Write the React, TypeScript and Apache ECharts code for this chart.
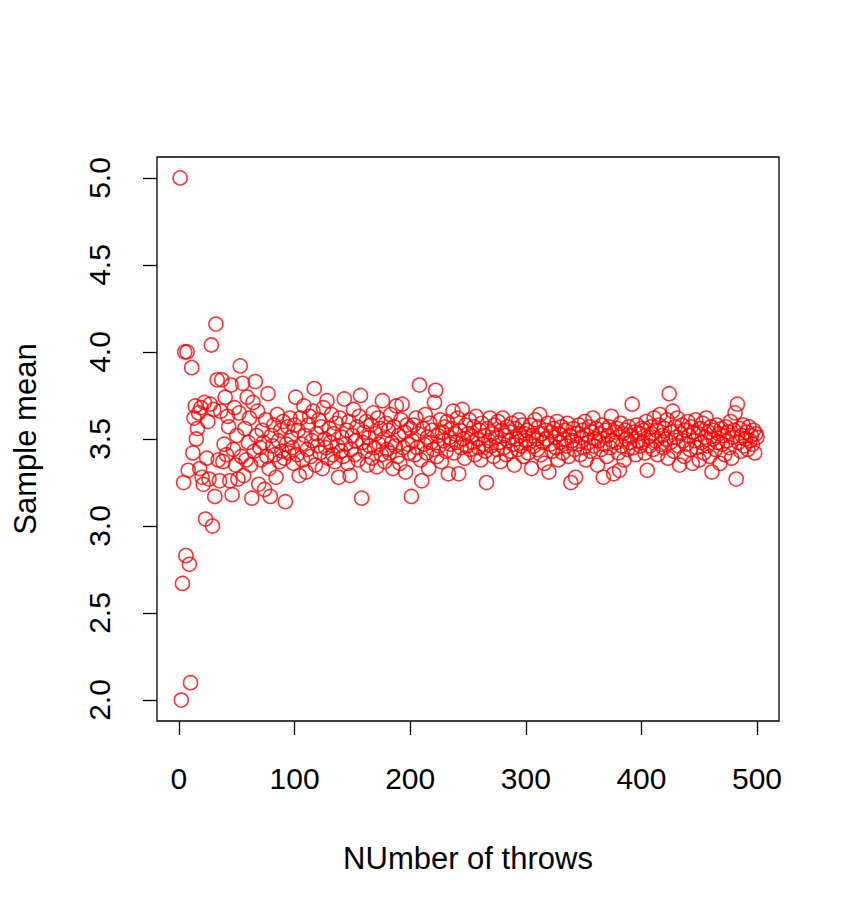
import React, { useEffect, useRef } from 'react';
import * as echarts from 'echarts';

// sample mean of n dice throws, n = 1..500
const means001to100 = [
  5.0, 2.0, 2.67, 3.25, 4.0, 2.83, 4.0, 3.32, 2.78, 2.1,
  3.91, 3.42, 3.62, 3.69, 3.5, 3.56, 3.65, 3.33, 3.68, 3.28,
  3.24, 3.71, 3.04, 3.39, 3.6, 3.27, 3.7, 4.04, 3.0, 3.67,
  3.17, 4.16, 3.84, 3.38, 3.26, 3.66, 3.84, 3.37, 3.47, 3.74,
  3.41, 3.63, 3.57, 3.26, 3.81, 3.18, 3.44, 3.68, 3.35, 3.52,
  3.27, 3.65, 3.92, 3.4, 3.82, 3.29, 3.56, 3.38, 3.74, 3.48,
  3.62, 3.35, 3.16, 3.71, 3.43, 3.83, 3.52, 3.66, 3.24, 3.45,
  3.38, 3.55, 3.48, 3.21, 3.61, 3.4, 3.76, 3.33, 3.17, 3.52,
  3.46, 3.58, 3.41, 3.28, 3.64, 3.49, 3.37, 3.55, 3.43, 3.6,
  3.39, 3.14, 3.47, 3.57, 3.42, 3.62, 3.51, 3.45, 3.36, 3.58,
];

const means101to200 = [
  3.74, 3.41, 3.55, 3.29, 3.62, 3.47, 3.38, 3.69, 3.52, 3.31,
  3.44, 3.58, 3.63, 3.4, 3.49, 3.66, 3.79, 3.35, 3.53, 3.46,
  3.61, 3.42, 3.57, 3.33, 3.68, 3.5, 3.45, 3.72, 3.39, 3.56,
  3.48, 3.64, 3.41, 3.53, 3.37, 3.59, 3.46, 3.28, 3.62, 3.43,
  3.51, 3.4, 3.73, 3.47, 3.55, 3.36, 3.6, 3.29, 3.44, 3.52,
  3.67, 3.41, 3.49, 3.57, 3.38, 3.63, 3.75, 3.16, 3.48, 3.54,
  3.43, 3.6, 3.35, 3.51, 3.46, 3.58, 3.39, 3.65, 3.45, 3.53,
  3.34, 3.62, 3.47, 3.56, 3.41, 3.72, 3.5, 3.37, 3.59, 3.44,
  3.55, 3.42, 3.64, 3.48, 3.33, 3.57, 3.46, 3.69, 3.4, 3.52,
  3.36, 3.61, 3.7, 3.45, 3.54, 3.31, 3.58, 3.47, 3.42, 3.56,
];

const means201to300 = [
  3.17, 3.49, 3.58, 3.41, 3.62, 3.45, 3.53, 3.81, 3.38, 3.26,
  3.56, 3.47, 3.64, 3.42, 3.51, 3.33, 3.59, 3.48, 3.55, 3.44,
  3.71, 3.78, 3.4, 3.52, 3.46, 3.61, 3.37, 3.54, 3.49, 3.57,
  3.43, 3.6, 3.3, 3.51, 3.47, 3.56, 3.66, 3.42, 3.53, 3.48,
  3.62, 3.3, 3.55, 3.45, 3.67, 3.5, 3.39, 3.58, 3.46, 3.53,
  3.61, 3.44, 3.52, 3.48, 3.57, 3.41, 3.63, 3.5, 3.45, 3.55,
  3.38, 3.59, 3.47, 3.52, 3.43, 3.25, 3.56, 3.49, 3.62, 3.46,
  3.53, 3.4, 3.58, 3.51, 3.44, 3.6, 3.48, 3.37, 3.55, 3.62,
  3.45, 3.52, 3.41, 3.57, 3.49, 3.54, 3.43, 3.59, 3.47, 3.35,
  3.56, 3.5, 3.44, 3.61, 3.52, 3.46, 3.58, 3.4, 3.53, 3.49,
];

const means301to400 = [
  3.55, 3.42, 3.48, 3.58, 3.33, 3.52, 3.46, 3.61, 3.5, 3.44,
  3.57, 3.64, 3.41, 3.53, 3.48, 3.36, 3.55, 3.5, 3.59, 3.31,
  3.47, 3.54, 3.43, 3.56, 3.51, 3.45, 3.6, 3.38, 3.53, 3.48,
  3.57, 3.42, 3.5, 3.55, 3.46, 3.59, 3.4, 3.52, 3.25, 3.49,
  3.56, 3.44, 3.28, 3.53, 3.47, 3.58, 3.41, 3.51, 3.55, 3.45,
  3.6, 3.38, 3.52, 3.48, 3.57, 3.43, 3.54, 3.62, 3.46, 3.5,
  3.56, 3.35, 3.49, 3.53, 3.44, 3.58, 3.28, 3.47, 3.55, 3.4,
  3.52, 3.57, 3.45, 3.63, 3.49, 3.3, 3.54, 3.48, 3.56, 3.42,
  3.32, 3.59, 3.46, 3.53, 3.38, 3.55, 3.5, 3.44, 3.57, 3.48,
  3.52, 3.7, 3.45, 3.54, 3.41, 3.58, 3.49, 3.53, 3.46, 3.56,
];

const means401to500 = [
  3.48, 3.55, 3.42, 3.6, 3.32, 3.51, 3.46, 3.57, 3.53, 3.44,
  3.62, 3.49, 3.55, 3.41, 3.58, 3.64, 3.47, 3.52, 3.45, 3.56,
  3.5, 3.61, 3.39, 3.76, 3.48, 3.54, 3.66, 3.43, 3.57, 3.51,
  3.62, 3.46, 3.35, 3.53, 3.58, 3.49, 3.4, 3.55, 3.47, 3.6,
  3.52, 3.44, 3.57, 3.36, 3.54, 3.49, 3.61, 3.45, 3.53, 3.38,
  3.56, 3.48, 3.59, 3.42, 3.51, 3.62, 3.46, 3.54, 3.4, 3.57,
  3.31, 3.5, 3.55, 3.44, 3.58, 3.48, 3.53, 3.36, 3.56, 3.47,
  3.52, 3.41, 3.57, 3.49, 3.54, 3.45, 3.6, 3.39, 3.51, 3.55,
  3.65, 3.27, 3.7, 3.48, 3.56, 3.43, 3.52, 3.58, 3.46, 3.5,
  3.54, 3.44, 3.57, 3.49, 3.52, 3.47, 3.55, 3.42, 3.53, 3.51,
];

const xTicks = [0, 100, 200, 300, 400, 500];

const FONT = '"Liberation Sans", Arial, Helvetica, sans-serif';

const App: React.FC = () => {
  const chartRef = useRef<HTMLDivElement | null>(null);

  useEffect(() => {
    if (!chartRef.current) return;
    const chart = echarts.init(chartRef.current, undefined, { renderer: 'svg' });

    const means = [
      ...means001to100,
      ...means101to200,
      ...means201to300,
      ...means301to400,
      ...means401to500,
    ];
    const points = means.map((m, i) => [i + 1, m]);

    const tickStyle = { color: '#000', width: 1.3 };
    const labelStyle = { fontSize: 30, color: '#000', fontFamily: FONT };

    const option = {
      animation: false,
      backgroundColor: '#ffffff',
      grid: [
        {
          left: 157,
          top: 157,
          width: 622,
          height: 564,
          show: true,
          borderColor: '#000',
          borderWidth: 1.3,
          backgroundColor: 'transparent',
        },
        // y axis only spans 2.0 .. 5.0, like R's axis()
        { left: 157, top: 178, width: 622, height: 522, show: false },
      ],
      xAxis: [
        {
          type: 'value',
          gridIndex: 0,
          min: -19,
          max: 519,
          splitLine: { show: false },
          axisLine: { show: false },
          axisTick: { show: true, customValues: xTicks, length: 14, lineStyle: tickStyle },
          axisLabel: { customValues: xTicks, margin: 42, ...labelStyle },
        },
        { type: 'value', gridIndex: 1, show: false, min: 0, max: 1 },
      ],
      yAxis: [
        {
          type: 'value',
          gridIndex: 0,
          min: 1.88,
          max: 5.12,
          show: false,
          splitLine: { show: false },
        },
        {
          type: 'value',
          gridIndex: 1,
          min: 2,
          max: 5,
          interval: 0.5,
          splitLine: { show: false },
          axisLine: { show: false },
          axisTick: { show: true, inside: false, length: 14, lineStyle: tickStyle },
          axisLabel: {
            rotate: 90,
            margin: 43,
            ...labelStyle,
            formatter: (v: number) => v.toFixed(1),
          },
        },
      ],
      graphic: [
        {
          type: 'text',
          x: 25,
          y: 439,
          rotation: Math.PI / 2,
          style: {
            text: 'Sample mean',
            fontSize: 31,
            fontFamily: FONT,
            fill: '#000',
            align: 'center',
            verticalAlign: 'middle',
          },
        },
        {
          type: 'text',
          x: 468,
          y: 858,
          style: {
            text: 'NUmber of throws',
            fontSize: 31,
            fontFamily: FONT,
            fill: '#000',
            align: 'center',
            verticalAlign: 'middle',
          },
        },
      ],
      series: [
        {
          type: 'scatter',
          xAxisIndex: 0,
          yAxisIndex: 0,
          data: points,
          symbol: 'circle',
          symbolSize: 14,
          itemStyle: {
            color: 'rgba(0,0,0,0)',
            borderColor: '#ff0000',
            borderWidth: 1.6,
          },
          emphasis: { disabled: true },
        },
      ],
    };

    chart.setOption(option);

    return () => {
      chart.dispose();
    };
  }, []);

  return (
    <div
      ref={chartRef}
      style={{ position: 'absolute', left: 0, top: 0, width: '860px', height: '918px' }}
    />
  );
};

export default App;
